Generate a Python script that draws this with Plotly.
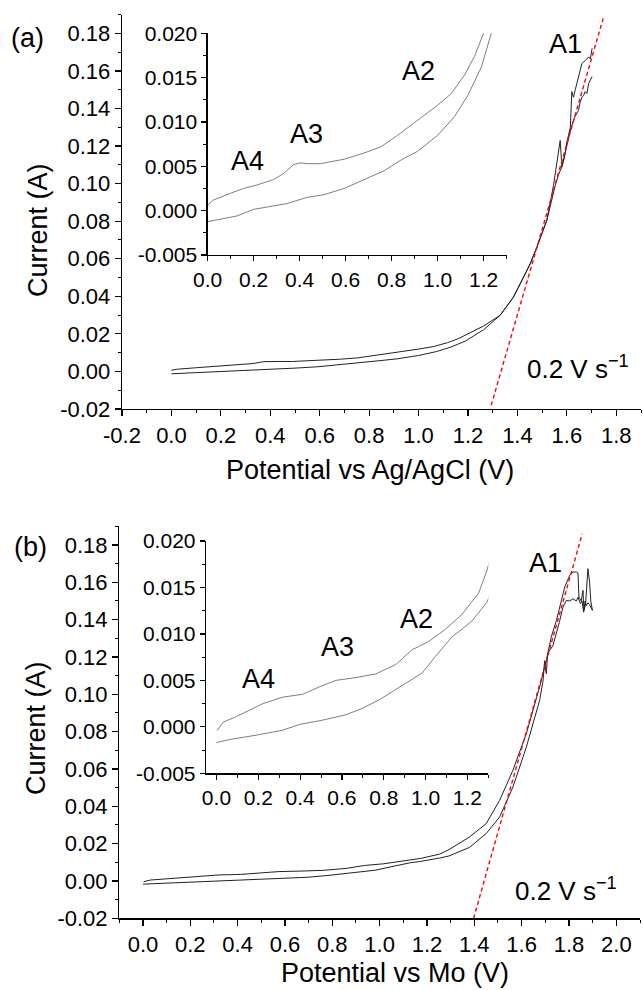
import plotly.graph_objects as go

W, H = 643, 990

# ---------------- data: panel (a) ----------------
a_upper_x = [0.0, 0.025, 0.098, 0.156, 0.214, 0.287, 0.33, 0.374, 0.403, 0.432, 0.49, 0.593, 0.68, 0.753,
             0.826, 0.913, 1.0, 1.059, 1.117, 1.16, 1.2, 1.263, 1.33, 1.384, 1.425, 1.452, 1.479, 1.519,
             1.546, 1.573, 1.58, 1.59, 1.60, 1.614, 1.62, 1.627, 1.634, 1.647, 1.661, 1.674, 1.688, 1.695, 1.702]
a_upper_y = [0.0006, 0.0012, 0.00195, 0.0025, 0.0029, 0.0035, 0.0042, 0.0052, 0.0054, 0.0053, 0.0053, 0.0058,
             0.0065, 0.0072, 0.0085, 0.0102, 0.0119, 0.0132, 0.0153, 0.0174, 0.0200, 0.0242, 0.0299, 0.0396,
             0.0503, 0.0574, 0.0663, 0.0805, 0.0991, 0.123, 0.109, 0.114, 0.122, 0.130, 0.149, 0.146, 0.150,
             0.157, 0.164, 0.1655, 0.1675, 0.1665, 0.172]
a_lower_x = [0.0, 0.068, 0.127, 0.2, 0.272, 0.345, 0.432, 0.505, 0.593, 0.68, 0.767, 0.84, 0.913, 1.0, 1.073,
             1.131, 1.19, 1.233, 1.263, 1.33, 1.384, 1.425, 1.452, 1.479, 1.519, 1.553, 1.567, 1.58, 1.587,
             1.6, 1.614, 1.627, 1.634, 1.647, 1.654, 1.661, 1.668, 1.674, 1.681, 1.688, 1.695, 1.702]
a_lower_y = [-0.00124, -0.00086, -0.0006, 0.00015, 0.00045, 0.0008, 0.0015, 0.0018, 0.0025, 0.0035, 0.0045,
             0.0057, 0.0067, 0.0085, 0.0106, 0.0130, 0.0162, 0.0200, 0.0222, 0.0299, 0.0396, 0.0503, 0.0574,
             0.0663, 0.0805, 0.099, 0.105, 0.109, 0.113, 0.1205, 0.128, 0.1338, 0.136, 0.139, 0.1435, 0.146,
             0.147, 0.149, 0.148, 0.1533, 0.155, 0.157]
a_fit_x = [1.294, 1.747]
a_fit_y = [-0.018, 0.188]

# ---------------- data: panel (b) ----------------
b_upper_x = [0.003, 0.032, 0.095, 0.222, 0.317, 0.412, 0.492, 0.571, 0.667, 0.762, 0.857, 0.936, 1.016, 1.095,
             1.174, 1.254, 1.293, 1.38, 1.45, 1.507, 1.563, 1.62, 1.676, 1.704, 1.725, 1.747, 1.768, 1.782,
             1.803, 1.817, 1.831, 1.838, 1.842, 1.852, 1.859, 1.863, 1.87, 1.88, 1.887, 1.892, 1.899]
b_upper_y = [-0.0004, 0.0005, 0.0011, 0.0025, 0.0032, 0.0035, 0.0043, 0.0050, 0.0053, 0.0057, 0.0067, 0.0083,
             0.0092, 0.0105, 0.0121, 0.0144, 0.0168, 0.0236, 0.0307, 0.0432, 0.0593, 0.079, 0.104, 0.118, 0.1307,
             0.1396, 0.150, 0.1575, 0.1637, 0.1655, 0.1655, 0.165, 0.152, 0.150, 0.1557, 0.145, 0.148, 0.1673,
             0.160, 0.150, 0.145]
b_lower_x = [0.0, 0.063, 0.19, 0.317, 0.397, 0.508, 0.619, 0.698, 0.778, 0.857, 0.984, 1.048, 1.127, 1.174,
             1.222, 1.254, 1.293, 1.38, 1.45, 1.507, 1.563, 1.62, 1.676, 1.69, 1.697, 1.704, 1.71, 1.732, 1.76,
             1.774, 1.789, 1.803, 1.817, 1.831, 1.838, 1.848, 1.855, 1.862, 1.868, 1.873, 1.88, 1.887, 1.899]
b_lower_y = [-0.0017, -0.00136, -0.0009, -0.00036, 0.00026, 0.00072, 0.0013, 0.0020, 0.0029, 0.0040, 0.0058,
             0.0076, 0.0097, 0.0105, 0.0114, 0.0123, 0.0134, 0.018, 0.0254, 0.0343, 0.0503, 0.0718, 0.0968,
             0.107, 0.118, 0.111, 0.122, 0.126, 0.139, 0.1465, 0.1503, 0.150, 0.1512, 0.150, 0.152, 0.1486,
             0.150, 0.144, 0.150, 0.1475, 0.149, 0.148, 0.145]
b_fit_x = [1.397, 1.856]
b_fit_y = [-0.02, 0.186]

# ---------------- tick labels ----------------
main_y_vals = [-0.02, 0.0, 0.02, 0.04, 0.06, 0.08, 0.10, 0.12, 0.14, 0.16, 0.18]
main_y_text = ["-0.02", "0.00", "0.02", "0.04", "0.06", "0.08", "0.10", "0.12", "0.14", "0.16", "0.18"]
a_x_vals = [-0.2, 0.0, 0.2, 0.4, 0.6, 0.8, 1.0, 1.2, 1.4, 1.6, 1.8]
a_x_text = ["-0.2", "0.0", "0.2", "0.4", "0.6", "0.8", "1.0", "1.2", "1.4", "1.6", "1.8"]
b_x_vals = [0.0, 0.2, 0.4, 0.6, 0.8, 1.0, 1.2, 1.4, 1.6, 1.8, 2.0]
b_x_text = ["0.0", "0.2", "0.4", "0.6", "0.8", "1.0", "1.2", "1.4", "1.6", "1.8", "2.0"]
inset_y_vals = [-0.005, 0.0, 0.005, 0.010, 0.015, 0.020]
inset_y_text = ["-0.005", "0.000", "0.005", "0.010", "0.015", "0.020"]
inset_x_vals = [0.0, 0.2, 0.4, 0.6, 0.8, 1.0, 1.2]
inset_x_text = ["0.0", "0.2", "0.4", "0.6", "0.8", "1.0", "1.2"]

FONT = "Liberation Sans, Arial, sans-serif"
MAIN_COL = "#222222"
INSET_COL = "#707070"
FIT_DASH = "4px,3px"

def px(x):
    return x / W

def py(y):
    return 1 - y / H

fig = go.Figure()

def add_curves(xs, ys, xa, ya, color, width):
    fig.add_trace(go.Scatter(x=xs, y=ys, mode="lines", xaxis=xa, yaxis=ya,
                             line=dict(color=color, width=width), showlegend=False, hoverinfo="skip"))

# panel a main
add_curves(a_upper_x, a_upper_y, "x", "y", MAIN_COL, 1.0)
add_curves(a_lower_x, a_lower_y, "x", "y", MAIN_COL, 1.0)
fig.add_trace(go.Scatter(x=a_fit_x, y=a_fit_y, mode="lines", xaxis="x", yaxis="y",
                         line=dict(color="red", width=1.4, dash=FIT_DASH), showlegend=False))
# panel a inset
add_curves(a_upper_x, a_upper_y, "x2", "y2", INSET_COL, 0.9)
add_curves(a_lower_x, a_lower_y, "x2", "y2", INSET_COL, 0.9)
# panel b main
add_curves(b_upper_x, b_upper_y, "x3", "y3", MAIN_COL, 1.0)
add_curves(b_lower_x, b_lower_y, "x3", "y3", MAIN_COL, 1.0)
fig.add_trace(go.Scatter(x=b_fit_x, y=b_fit_y, mode="lines", xaxis="x3", yaxis="y3",
                         line=dict(color="red", width=1.4, dash=FIT_DASH), showlegend=False))
# panel b inset
add_curves(b_upper_x, b_upper_y, "x4", "y4", INSET_COL, 0.9)
add_curves(b_lower_x, b_lower_y, "x4", "y4", INSET_COL, 0.9)

def axis(domain, rng, vals, text, minor_dtick, size, anchor, ticklen=6):
    return dict(domain=domain, range=rng, tickmode="array", tickvals=vals, ticktext=text,
                showline=True, linecolor="black", linewidth=1.3, mirror=False,
                ticks="outside", ticklen=ticklen, tickwidth=1.2, tickcolor="black",
                minor=dict(ticks="outside", ticklen=3, tickwidth=1, tickcolor="black",
                           tickmode="linear", tick0=0, dtick=minor_dtick),
                showgrid=False, zeroline=False, anchor=anchor, automargin=False,
                tickfont=dict(family=FONT, size=size, color="black"))

MAIN_TICK = 22
INSET_TICK = 21

fig.update_layout(
    width=W, height=H, autosize=False,
    margin=dict(l=0, r=0, t=0, b=0, pad=0),
    paper_bgcolor="white", plot_bgcolor="rgba(0,0,0,0)",
    xaxis=axis([px(122), px(641)], [-0.2, 1.9], a_x_vals, a_x_text, 0.1, MAIN_TICK, "y"),
    yaxis=axis([py(409), py(14.6)], [-0.02, 0.19], main_y_vals, main_y_text, 0.01, MAIN_TICK, "x"),
    xaxis2=axis([px(207.7), px(506.7)], [0.0, 1.3], inset_x_vals, inset_x_text, 0.1, INSET_TICK, "y2", 5),
    yaxis2=axis([py(255), py(33.3)], [-0.005, 0.020], inset_y_vals, inset_y_text, 0.0025, INSET_TICK, "x2", 5),
    xaxis3=axis([px(119.3), px(640)], [-0.1, 2.1], b_x_vals, b_x_text, 0.1, MAIN_TICK, "y3"),
    yaxis3=axis([py(918.3), py(526.3)], [-0.02, 0.19], main_y_vals, main_y_text, 0.01, MAIN_TICK, "x3"),
    xaxis4=axis([px(206), px(488.3)], [-0.05, 1.3], inset_x_vals, inset_x_text, 0.1, INSET_TICK, "y4", 5),
    yaxis4=axis([py(773.3), py(541)], [-0.005, 0.020], inset_y_vals, inset_y_text, 0.0025, INSET_TICK, "x4", 5),
)

def note(text, x, y, size=27, xanchor="center", yanchor="middle", angle=0):
    fig.add_annotation(text=text, x=px(x), y=py(y), xref="paper", yref="paper",
                       xanchor=xanchor, yanchor=yanchor, showarrow=False, textangle=angle,
                       font=dict(family=FONT, size=size, color="black"))

LAB = 27
# panel a texts
note("(a)", 27, 38, LAB)
note("Current (A)", 38, 230, LAB, angle=-90)
note("Potential vs Ag/AgCl (V)", 370, 470, LAB)
note("A1", 565, 44, LAB)
note("A2", 418, 71, LAB)
note("A3", 306, 134, LAB)
note("A4", 247, 161, LAB)
note("0.2 V s<sup>−1</sup>", 525, 368, 26, xanchor="left")
# panel b texts
note("(b)", 31, 547, LAB)
note("Current (A)", 36, 728, LAB, angle=-90)
note("Potential vs Mo (V)", 395, 973, LAB)
note("A1", 545, 563, LAB)
note("A2", 416, 619, LAB)
note("A3", 337, 647, LAB)
note("A4", 258, 679, LAB)
note("0.2 V s<sup>−1</sup>", 513, 889, 26, xanchor="left")

fig.write_html("out.html",
               config={"displayModeBar": False, "staticPlot": True},
               post_script="document.body.style.margin='0';document.body.style.padding='0';"
                           "document.body.style.overflow='hidden';")
